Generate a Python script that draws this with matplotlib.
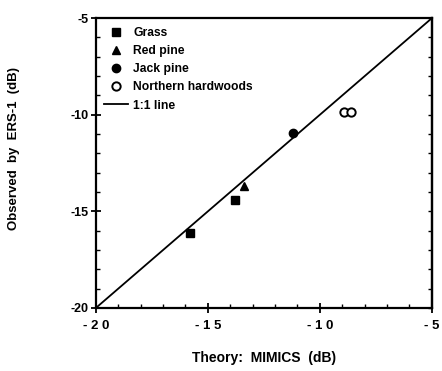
import numpy as np
import matplotlib
matplotlib.use('Agg')
import matplotlib.pyplot as plt
from matplotlib.ticker import MultipleLocator, FixedLocator, NullFormatter

# --- data (dB) ---
grass_x = [-15.8, -13.8]
grass_y = [-16.1, -14.4]
redpine_x = [-13.4]
redpine_y = [-13.7]
jackpine_x = [-11.2]
jackpine_y = [-10.95]
hardwood_x = [-8.9, -8.6]
hardwood_y = [-9.85, -9.85]

one_to_one = [-20, -5]
xtick_vals = [-20, -15, -10, -5]
xtick_labels = ['- 2 0', '- 1 5', '- 1 0', '- 5']
ytick_vals = [-20, -15, -10, -5]
ytick_labels = ['-20', '-15', '-10', '-5']

plt.rcParams['font.family'] = ['Liberation Sans', 'DejaVu Sans']
plt.rcParams['font.weight'] = 'bold'

fig = plt.figure(figsize=(4.42, 3.71), dpi=100)
ax = fig.add_axes([0.217, 0.170, 0.760, 0.781])

ms = 6
ax.plot(grass_x, grass_y, 's', color='black', ms=ms, ls='none', label='Grass')
ax.plot(redpine_x, redpine_y, '^', color='black', ms=ms, ls='none', label='Red pine')
ax.plot(jackpine_x, jackpine_y, 'o', color='black', ms=ms, ls='none', label='Jack pine')
ax.plot(hardwood_x, hardwood_y, 'o', mfc='white', mec='black', mew=1.4, ms=ms,
        ls='none', label='Northern hardwoods')
ax.plot(one_to_one, one_to_one, '-', color='black', lw=1.3, label='1:1 line')

ax.set_xlim(-20, -5)
ax.set_ylim(-20, -5)

ax.xaxis.set_major_locator(FixedLocator(xtick_vals))
ax.set_xticklabels(xtick_labels, fontsize=9.5, fontweight='bold')
ax.yaxis.set_major_locator(FixedLocator(ytick_vals))
ax.set_yticklabels(ytick_labels, fontsize=9, fontweight='bold')
ax.xaxis.set_minor_locator(MultipleLocator(1))
ax.yaxis.set_minor_locator(MultipleLocator(1))

ax.tick_params(axis='x', which='major', direction='inout', length=7, width=1.3, pad=5)
ax.tick_params(axis='y', which='major', direction='inout', length=7, width=1.3, pad=2)
ax.tick_params(which='minor', direction='in', length=3, width=1.0)

# right side: short inward ticks only, no labels
sec = ax.secondary_yaxis('right')
sec.yaxis.set_major_locator(MultipleLocator(1))
sec.yaxis.set_major_formatter(NullFormatter())
sec.tick_params(direction='in', length=3, width=1.0)
sec.spines['right'].set_linewidth(1.6)

for s in ax.spines.values():
    s.set_linewidth(1.6)

ax.set_xlabel('Theory:  MIMICS  (dB)', fontsize=10, fontweight='bold', labelpad=14)
ax.set_ylabel('Observed  by  ERS-1  (dB)', fontsize=9.5, fontweight='bold')
ax.yaxis.set_label_coords(-0.225, 0.55)

leg = ax.legend(loc='upper left', frameon=False, fontsize=8.7, handlelength=2.0,
                handletextpad=0.4, labelspacing=0.5, borderaxespad=0.0,
                bbox_to_anchor=(0.01, 0.985))
for t in leg.get_texts():
    t.set_fontweight('bold')

fig.savefig('out.png', dpi=100)
